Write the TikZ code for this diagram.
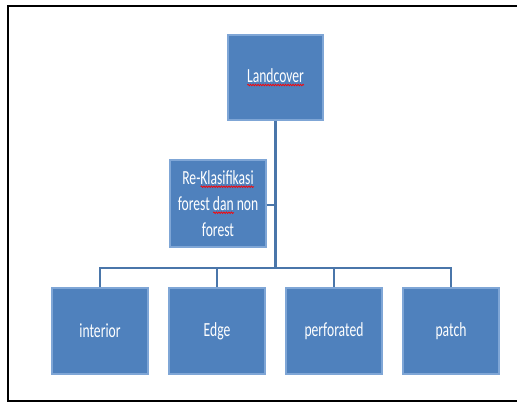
\documentclass[tikz,border=0pt]{standalone}
\usepackage{fontspec}
\usetikzlibrary{decorations.pathmorphing}
\newfontfamily\cfont[FakeStretch=0.68]{Carlito}
\definecolor{boxfill}{HTML}{4F81BD}
\definecolor{boxborder}{HTML}{7FA6D6}
\definecolor{linkcol}{HTML}{4A76AA}
\newsavebox\squigbox
\newlength\squigwd
\newcommand\squig[1]{\sbox\squigbox{#1}\setlength\squigwd{\wd\squigbox}%
  \rlap{\raisebox{-3.5pt}{\tikz[x=1pt,y=1pt]\draw[red,line width=0.7pt,decorate,decoration={zigzag,segment length=2.5pt,amplitude=0.8pt}] (0pt,0pt) -- (\squigwd,0pt);}}\usebox\squigbox}
\tikzset{
  box/.style={draw=boxborder, fill=boxfill, line width=1.2pt, text=white,
    font=\cfont\fontsize{20}{26}\selectfont, align=center, inner sep=2pt},
  link/.style={draw=linkcol, line width=2.5pt},
  frame/.style={draw=black, line width=2pt}
}
\begin{document}
\begin{tikzpicture}[x=1pt,y=-1pt]
\useasboundingbox (0,0) rectangle (517,403);
\draw[frame] (517,6.5) -- (7.5,6.5) -- (7.5,401.5) -- (517,401.5);
\node[box, minimum width=95pt, minimum height=85pt] (lc) at (275.5,77.5) {\squig{Landcover}};
\node[box, minimum width=96pt, minimum height=87pt] (rk) at (218,203.5) {Re-\squig{Klasifikasi}\\forest \squig{dan} non\\forest};
\node[box, minimum width=96pt, minimum height=86pt] (b1) at (100,331) {interior};
\node[box, minimum width=96pt, minimum height=86pt] (b2) at (217,331) {Edge};
\node[box, minimum width=96pt, minimum height=86pt] (b3) at (334,331) {perforated};
\node[box, minimum width=96pt, minimum height=86pt] (b4) at (451,331) {patch};
\coordinate (j) at (275.5,268);
\coordinate (s) at (275.5,205);
\draw[link] (lc.south) -- (j);
\draw[link] (rk.east |- s) -- (s);
\draw[link] (j) -| (b1.north);
\draw[link] (j) -| (b2.north);
\draw[link] (j) -| (b3.north);
\draw[link] (j) -| (b4.north);
\end{tikzpicture}
\end{document}
